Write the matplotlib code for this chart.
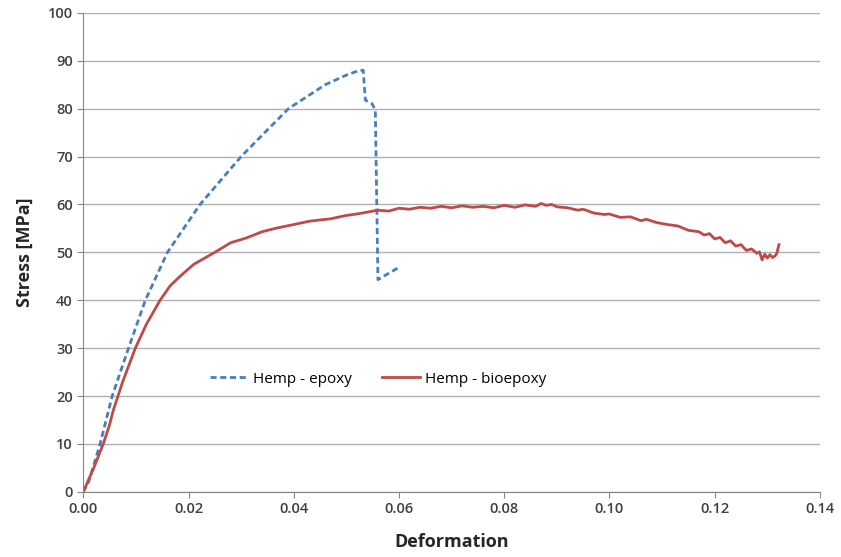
import numpy as np
import matplotlib.pyplot as plt

plt.rcParams['font.family'] = ['Open Sans', 'DejaVu Sans']

# Hemp - epoxy (dashed blue)
epoxy_x = [0.0, 0.001, 0.0032, 0.0055, 0.0086, 0.0118, 0.016, 0.0222, 0.030,
           0.039, 0.046, 0.050, 0.0525, 0.0532, 0.0536, 0.0549, 0.0555, 0.0560, 0.0602]
epoxy_y = [0, 2, 10, 20, 30, 40, 50, 60, 70,
           80, 85, 87, 88, 88, 81.8, 81, 79.7, 44.3, 47]

# Hemp - bioepoxy (solid red, noisy)
bio_x = [0.0, 0.001, 0.002, 0.0038, 0.005, 0.0057, 0.0075, 0.0099, 0.012, 0.0146,
         0.0165, 0.0184, 0.021, 0.025, 0.028, 0.031, 0.034, 0.0365, 0.040, 0.043,
         0.047, 0.050, 0.052, 0.0545, 0.056, 0.058, 0.060, 0.062, 0.064, 0.066,
         0.068, 0.070, 0.072, 0.074, 0.076, 0.078, 0.080, 0.082, 0.084, 0.086,
         0.087, 0.088, 0.089, 0.090, 0.092, 0.094, 0.095, 0.097, 0.099, 0.100,
         0.102, 0.104, 0.106, 0.107, 0.109, 0.111, 0.113, 0.115, 0.117, 0.118,
         0.119, 0.120, 0.121, 0.122, 0.123, 0.124, 0.125, 0.126, 0.127, 0.128,
         0.1285, 0.129, 0.1295, 0.130, 0.1305, 0.131, 0.1315, 0.1318, 0.1322]
bio_y = [0, 2.5, 5, 10, 14, 17, 23, 30, 35, 40,
         43, 45, 47.5, 50, 52, 53, 54.3, 55, 55.8, 56.5,
         57, 57.7, 58, 58.5, 58.8, 58.6, 59.2, 59, 59.4, 59.2,
         59.6, 59.3, 59.7, 59.4, 59.6, 59.3, 59.8, 59.4, 59.9, 59.6,
         60.2, 59.8, 60, 59.5, 59.3, 58.8, 59, 58.2, 57.9, 58,
         57.3, 57.4, 56.6, 56.9, 56.2, 55.8, 55.5, 54.6, 54.3, 53.6,
         53.9, 52.8, 53.1, 52, 52.4, 51.3, 51.6, 50.4, 50.7, 49.8,
         50.1, 48.4, 49.6, 48.8, 49.5, 48.9, 49.3, 49.8, 51.6]

fig, ax = plt.subplots(figsize=(8.41, 5.57), dpi=100)
fig.subplots_adjust(left=0.099, right=0.975, bottom=0.117, top=0.977)

ax.plot(epoxy_x, epoxy_y, color='#4a7ebb', lw=2, ls=(0, (2.2, 1.3)), label='Hemp - epoxy')
ax.plot(bio_x, bio_y, color='#be4b48', lw=2, label='Hemp - bioepoxy')

ax.set_xlim(0, 0.14)
ax.set_ylim(0, 100)
ax.set_xticks(np.arange(0, 0.141, 0.02))
ax.set_xticklabels(['%.2f' % v for v in np.arange(0, 0.141, 0.02)])
ax.set_yticks(np.arange(0, 101, 10))
ax.yaxis.grid(True, color='#b0b0b0', lw=1)
ax.set_axisbelow(True)

for s in ['top', 'right']:
    ax.spines[s].set_visible(False)
for s in ['left', 'bottom']:
    ax.spines[s].set_color('#868686')
ax.tick_params(colors='#868686', labelcolor='#404040', labelsize=10.5, length=4)
for lab in ax.get_xticklabels() + ax.get_yticklabels():
    lab.set_fontweight('semibold')

ax.set_xlabel('Deformation', fontsize=13, fontweight='bold', color='#262626', labelpad=12)
ax.set_ylabel('Stress [MPa]', fontsize=13, fontweight='bold', color='#262626', labelpad=10)

ax.legend(loc='center', bbox_to_anchor=(0.40, 0.235), ncol=2, frameon=False,
          fontsize=11, handlelength=2.5, columnspacing=2, handletextpad=0.3)

plt.savefig('out.png')
